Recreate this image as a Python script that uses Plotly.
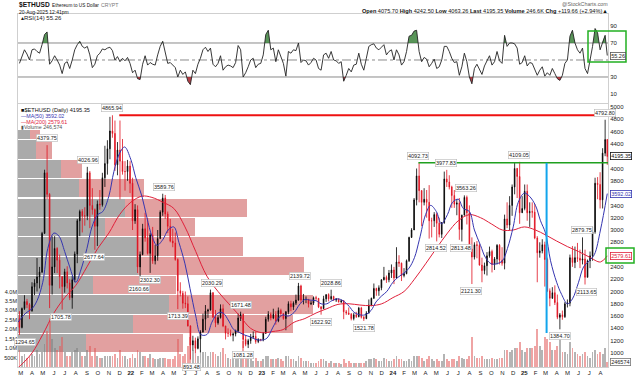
import numpy as np
import pandas as pd
import plotly.graph_objects as go

FONT = "Liberation Sans, Arial, sans-serif"

# ---------------- data (weekly) ----------------
WEEK0 = "2021-02-22"
FIRST_OPEN = 1560.0
CLOSE = [
    1416, 1723, 1836, 1786, 1687, 2078, 2139, 2237, 2315, 2945,
    3930, 3580, 2100, 2400, 2700, 2510, 2240, 2080, 2320, 2140,
    1900, 2190, 2610, 3150, 3300, 3230, 3230, 3930, 3400, 3330,
    3060, 3420, 3410, 3850, 4080, 4320, 4610, 4570, 4060, 4300,
    4120, 3950, 3950, 4040, 3760,
    3150, 3330, 2400, 2600, 3020, 2870, 2620, 2920, 2500, 2580,
    2860, 3290, 3520, 3260, 3060, 2820, 2790, 2520, 2010, 1970,
    1810, 1800, 1440, 1130, 1200, 1075, 1230, 1340, 1550, 1680,
    1700, 1980, 1580, 1490, 1575, 1720, 1440, 1320, 1320, 1290,
    1310, 1360, 1570, 1630, 1220, 1140, 1200, 1260, 1270, 1185,
    1220, 1215,
    1320, 1550, 1630, 1570, 1630, 1520, 1690, 1640, 1560, 1670,
    1800, 1750, 1810, 1860, 2090, 1860, 1870, 1870, 1800, 1810,
    1900, 1890, 1750, 1720, 1880, 1950, 1880, 1920, 1860, 1880,
    1830, 1850, 1670, 1650, 1630, 1560, 1620, 1590, 1730, 1580,
    1560, 1650, 1780, 1890, 2050, 2010, 2060, 2190, 2230, 2190,
    2300, 2350,
    2220, 2480, 2460, 2260, 2290, 2500, 2880, 3000, 3490, 3880,
    3640, 3450, 3500, 3450, 3150, 3150, 3250, 3110, 2930, 3120,
    3830, 3780, 3700, 3560, 3420, 3440, 3010, 3240, 3530, 3280,
    2690, 2560, 2760, 2750, 2430, 2340, 2420, 2580, 2650, 2440,
    2530, 2750, 2510, 2460, 3180, 3080, 3400, 3700, 4000, 3870,
    3280, 3350,
    3630, 3280, 3300, 3290, 2870, 2630, 2660, 2760, 2520, 2010,
    1890, 1980, 1820, 1580, 1620, 1590, 1800, 1810, 2550, 2470,
    2550, 2540, 2510, 2530, 2230, 2500, 2580, 2970, 3760, 3740,
    3490, 4250, 4470, 4195.35,
]
HIGH = [
    1680, 1740, 1940, 1880, 1810, 2150, 2200, 2545, 2400, 2970,
    3980, 4379.75, 3600, 2900, 2900, 2720, 2600, 2250, 2370, 2410,
    2200, 2250, 2650, 3180, 3330, 3340, 3370, 4026.96, 3960, 3680,
    3350, 3480, 3650, 3930, 4370, 4460, 4840, 4865.94, 4780, 4430,
    4780, 4480, 4120, 4140, 4120,
    3850, 3420, 3400, 2650, 3100, 3280, 3200, 2950, 3050, 2760,
    3000, 3320, 3589.76, 3570, 3300, 3180, 3020, 2960, 2540, 2150,
    2010, 2000, 1920, 1450, 1280, 1250, 1270, 1370, 1640, 1780,
    1720, 2030.29, 1990, 1700, 1620, 1790, 1790, 1440, 1400, 1380,
    1330, 1380, 1640, 1671.48, 1640, 1290, 1230, 1310, 1350, 1350,
    1240, 1230,
    1340, 1590, 1680, 1660, 1720, 1680, 1740, 1720, 1650, 1680,
    1840, 1850, 1840, 1950, 2139.72, 2110, 1960, 1920, 1880, 1850,
    1920, 1930, 1890, 1760, 1930, 1950, 1970, 2028.86, 1930, 1890,
    1880, 1870, 1860, 1700, 1740, 1650, 1650, 1670, 1750, 1750,
    1600, 1680, 1870, 1900, 2130, 2060, 2100, 2200, 2400, 2260,
    2350, 2440,
    2400, 2720, 2590, 2470, 2380, 2520, 2890, 3030, 3520, 4000,
    4092.73, 3650, 3680, 3650, 3730, 3200, 3290, 3280, 3200, 3130,
    3950, 3977.83, 3890, 3720, 3650, 3500, 3520, 3250, 3563.26, 3560,
    3400, 2880, 2800, 2820, 2780, 2550, 2470, 2640, 2730, 2680,
    2560, 2770, 2770, 2720, 3250, 3450, 3550, 3740, 4090, 4010,
    4109.05, 3550,
    3740, 3740, 3450, 3450, 3420, 2900, 2800, 2850, 2810, 2550,
    2050, 2070, 2100, 1950, 1650, 1690, 1830, 1870, 2600, 2740,
    2730, 2790, 2680, 2879.75, 2680, 2520, 2650, 3050, 3850, 3860,
    3940, 4330, 4792.80, 4480,
]
LOW = [
    1294.65, 1400, 1700, 1730, 1550, 1670, 1940, 2000, 2050, 2300,
    2940, 3500, 1730, 1950, 2300, 2300, 2050, 1705.78, 1980, 2050,
    1860, 1720, 2150, 2460, 2900, 2960, 3070, 3160, 3030, 3250,
    2677.64, 2740, 3330, 3380, 3700, 3900, 4150, 4500, 3960, 3890,
    3500, 3900, 3640, 3800, 3600,
    3000, 3100, 2300, 2160.66, 2590, 2810, 2600, 2302.30, 2450, 2440,
    2500, 2860, 3230, 3180, 2950, 2800, 2720, 2500, 1713.39, 1920,
    1720, 1730, 1430, 893.48, 1040, 990, 1060, 1010, 1330, 1370,
    1570, 1690, 1570, 1420, 1460, 1560, 1420, 1220, 1260, 1270,
    1190, 1270, 1330, 1520, 1081.28, 1110, 1080, 1150, 1230, 1150,
    1160, 1190,
    1190, 1310, 1510, 1530, 1550, 1460, 1500, 1580, 1540, 1370,
    1630, 1680, 1700, 1780, 1850, 1810, 1790, 1810, 1740, 1780,
    1780, 1850, 1730, 1622.92, 1720, 1830, 1840, 1860, 1850, 1830,
    1820, 1810, 1550, 1620, 1620, 1530, 1530, 1570, 1580, 1560,
    1521.78, 1550, 1640, 1760, 1880, 1930, 1930, 2020, 2180, 2140,
    2150, 2220,
    2120, 2210, 2400, 2170, 2230, 2280, 2480, 2870, 3000, 3400,
    3450, 3060, 3400, 3200, 2860, 2880, 3050, 2814.52, 2880, 2870,
    3100, 3700, 3660, 3360, 3360, 3240, 2840, 2813.48, 3240, 3090,
    2680, 2121.30, 2520, 2540, 2420, 2150, 2280, 2260, 2550, 2310,
    2350, 2440, 2440, 2420, 2360, 3030, 3000, 3230, 3580, 3520,
    3100, 3280,
    3320, 3150, 3050, 3200, 2850, 2150, 2550, 2620, 2080, 1990,
    1760, 1880, 1780, 1550, 1384.70, 1540, 1570, 1740, 1760, 2400,
    2380, 2480, 2380, 2440, 2113.65, 2230, 2380, 2500, 2940, 3500,
    3350, 3350, 4200, 4060,
]
VOLUME_M = [
    0.9, 0.6, 0.7, 0.5, 0.6, 0.7, 0.6, 0.9, 0.7, 0.8,
    1.2, 1.9, 2.6, 1.5, 1.0, 0.9, 1.1, 1.6, 0.8, 0.6,
    0.6, 0.8, 0.9, 1.0, 0.8, 0.6, 0.6, 0.9, 1.1, 0.6,
    1.0, 0.6, 0.5, 0.5, 0.6, 0.6, 0.6, 0.6, 0.7, 0.5,
    0.9, 0.6, 0.6, 0.4, 0.5,
    0.7, 0.5, 0.9, 0.8, 0.6, 0.6, 0.5, 0.7, 0.5, 0.4,
    0.4, 0.5, 0.5, 0.5, 0.4, 0.4, 0.4, 0.6, 1.5, 0.7,
    0.6, 0.7, 1.1, 1.6, 0.9, 0.7, 0.6, 0.9, 0.8, 0.8,
    0.6, 0.8, 0.8, 0.7, 0.6, 0.8, 1.0, 0.7, 0.5, 0.4,
    0.5, 0.4, 0.7, 0.5, 1.4, 0.6, 0.5, 0.4, 0.3, 0.5,
    0.3, 0.3,
    0.4, 0.6, 0.6, 0.4, 0.4, 0.4, 0.5, 0.4, 0.3, 0.6,
    0.6, 0.4, 0.4, 0.3, 0.6, 0.5, 0.3, 0.3, 0.3, 0.2,
    0.2, 0.2, 0.3, 0.4, 0.4, 0.3, 0.2, 0.3, 0.2, 0.2,
    0.2, 0.15, 0.4, 0.2, 0.3, 0.2, 0.2, 0.2, 0.2, 0.2,
    0.2, 0.3, 0.4, 0.4, 0.5, 0.4, 0.3, 0.3, 0.5, 0.4,
    0.3, 0.3,
    0.4, 0.6, 0.4, 0.4, 0.3, 0.3, 0.4, 0.3, 0.6, 0.6,
    0.6, 0.5, 0.3, 0.4, 0.6, 0.4, 0.3, 0.4, 0.3, 0.3,
    0.7, 0.4, 0.3, 0.4, 0.4, 0.3, 0.6, 0.5, 0.4, 0.4,
    0.6, 1.6, 0.6, 0.5, 0.5, 0.6, 0.4, 0.4, 0.4, 0.5,
    0.4, 0.4, 0.5, 0.5, 0.9, 0.9, 0.8, 0.9, 1.0, 1.0,
    1.3, 0.9,
    0.8, 1.0, 1.0, 1.0, 1.1, 2.0, 1.1, 0.9, 1.6, 1.5,
    1.3, 0.9, 0.9, 1.1, 1.6, 0.8, 0.8, 0.7, 1.3, 1.0,
    0.8, 0.7, 0.6, 0.7, 0.8, 0.6, 0.5, 0.8, 0.9, 0.7,
    0.8, 0.7, 1.0, 0.25,
]
RSI14 = [
    46, 55, 62, 57, 50, 62, 63, 60, 58, 68,
    80, 83, 45, 49, 55, 50, 44, 34, 46, 48,
    40, 50, 62, 68, 72, 66, 64, 66, 56, 41,
    45, 55, 58, 63, 62, 64, 65, 61, 50, 54,
    48, 52, 49, 53, 46,
    35, 38, 28, 27, 45, 55, 44, 47, 45, 44,
    56, 66, 72, 58, 46, 47, 44, 41, 30, 38,
    33, 36, 25, 21, 38, 34, 45, 52, 62, 65,
    60, 64, 45, 42, 46, 55, 38, 42, 44, 43,
    41, 47, 67, 62, 30, 35, 42, 50, 52, 41,
    45, 46,
    56, 80, 85, 62, 64, 48, 62, 55, 46, 31,
    60, 58, 62, 61, 70, 47, 50, 49, 44, 47,
    52, 50, 40, 38, 56, 58, 52, 60, 50, 49,
    46, 48, 25, 32, 40, 36, 44, 45, 58, 45,
    38, 52, 66, 68, 69, 64, 62, 65, 68, 56,
    60, 62,
    50, 62, 56, 44, 48, 60, 78, 79, 84, 85,
    60, 48, 53, 51, 42, 46, 51, 40, 42, 50,
    66, 66, 60, 52, 47, 48, 32, 42, 58, 48,
    30, 22, 40, 45, 38, 33, 43, 50, 55, 44,
    48, 60, 49, 46, 79, 66, 70, 70, 69, 64,
    45, 47,
    55, 43, 47, 46, 38, 32, 38, 42, 31, 35,
    32, 40, 34, 28, 26, 32, 46, 50, 78, 85,
    70, 62, 58, 64, 40, 34, 50, 66, 87, 82,
    62, 72, 79, 55.26,
]
# MA(50): start, 1st & 15th of each month Mar-2021..Aug-2025, last day
MA50_VALUES = [
    1500,
    1560, 1650, 1720, 1850, 2150, 2700, 2950, 2900, 2650, 2400,
    2150, 2350, 2700, 3050, 3250, 3300, 3550, 3950, 4250, 4350,
    4150, 3850, 3550, 3200, 2900, 2750, 2850, 3000, 3050, 2800, 2450, 2050,
    1600, 1300, 1300, 1500, 1650, 1650, 1520, 1380, 1330, 1290, 1260, 1220,
    1210, 1240, 1420, 1560, 1620, 1600, 1660, 1780, 1870, 1860, 1850, 1800,
    1800, 1850, 1880, 1850, 1760, 1660, 1620, 1620, 1690, 1830, 1930, 2000,
    2150, 2230, 2300, 2380, 2550, 2850, 3250, 3400, 3300, 3100, 3250, 3450,
    3500, 3350, 3300, 3000, 2750, 2550, 2450, 2450, 2500, 2700, 3050, 3450,
    3600, 3550, 3400, 3150, 2950, 2500, 2150, 1950, 1800, 1880, 2150, 2400,
    2500, 2600, 3000,
    3592.02,
]
# MA(200): start, 1st of each month Mar-2021..Aug-2025, last day
MA200_VALUES = [
    760,
    800, 1000, 1300, 1650, 1900, 2100, 2400, 2700, 2950, 3250,
    3450, 3550, 3530, 3450, 3350, 3050, 2650, 2250, 2000, 1800, 1600, 1400,
    1330, 1350, 1380, 1500, 1560, 1650, 1720, 1790, 1800, 1780, 1770, 1800,
    1900, 2000, 2200, 2450, 2700, 2950, 3150, 3250, 3200, 3100, 3000, 3000,
    3050, 3000, 2920, 2820, 2730, 2650, 2560, 2480,
    2579.61,
]
# volume-by-price bands (price edges) and up/down volume (relative units)
VBP_EDGES = [1000, 1315, 1630, 1945, 2260, 2575, 2890, 3205, 3520, 3835, 4150, 4465, 4630]
VBP_UP = [11.5, 19.5, 25.6, 12.7, 20.3, 20.3, 14.7, 18.1, 10.3, 7.3, 3.1, 2.0]
VBP_DOWN = [16.5, 27.1, 24.4, 14.1, 28.2, 17.8, 15.3, 20.7, 11.1, 3.5, 2.7, 1.7]

PIVOTS = [
    ("2021-02-28", 1294.65, "low"), ("2021-05-12", 4379.75, "high"),
    ("2021-06-22", 1705.78, "low"), ("2021-09-03", 4026.96, "high"),
    ("2021-09-21", 2677.64, "low"), ("2021-11-10", 4865.94, "high"),
    ("2022-01-24", 2160.66, "low"), ("2022-02-24", 2302.30, "low"),
    ("2022-04-03", 3589.76, "high"), ("2022-05-12", 1713.39, "low"),
    ("2022-06-18", 893.48, "low"), ("2022-08-14", 2030.29, "high"),
    ("2022-11-05", 1671.48, "high"), ("2022-11-09", 1081.28, "low"),
    ("2023-04-16", 2139.72, "high"), ("2023-06-15", 1622.92, "low"),
    ("2023-07-14", 2028.86, "high"), ("2023-10-12", 1521.78, "low"),
    ("2024-03-12", 4092.73, "high"), ("2024-05-01", 2814.52, "low"),
    ("2024-05-27", 3977.83, "high"), ("2024-07-08", 2813.48, "low"),
    ("2024-07-22", 3563.26, "high"), ("2024-08-05", 2121.30, "low"),
    ("2024-12-16", 4109.05, "high"), ("2025-04-09", 1384.70, "low"),
    ("2025-06-11", 2879.75, "high"), ("2025-06-22", 2113.65, "low"),
    ("2025-08-13", 4792.80, "high"),
]
MONTH_INITIALS = ["J", "F", "M", "A", "M", "J", "J", "A", "S", "O", "N", "D"]
# tick labels hidden behind the last-value boxes are left out
PRICE_TICKS = [p for p in range(1000, 5001, 200) if p not in (2600, 3600, 4200)]
RSI_TICKS = [10, 30, 70, 90]
VOL_TICKS = [0.5, 1.0, 1.5, 2.0, 2.5, 3.0, 3.5, 4.0]
VOL_TICK_TEXT = ["500K", "1.0M", "1.5M", "2.0M", "2.5M", "3.0M", "3.5M", "4.0M"]

# ---------------- layout constants ----------------
W, H = 640, 378
ML, MR, MT, MB = 18, 32, 14, 11
PH = H - MT - MB
X0, X1 = pd.Timestamp("2021-02-21"), pd.Timestamp("2025-08-22")
RSI_DOM = [(H - MB - 103) / PH, 1.0]
PRICE_DOM = [0.0, (H - MB - 104) / PH]
PRICE_RANGE = [772, 5049]
RSI_RANGE = [-0.6, 104.1]
VOL_RANGE = [0, 13.95e6]


def px_x(p):
    return (p - ML) / (W - ML - MR)


def px_y(p):
    return (H - MB - p) / PH


weeks = pd.date_range(WEEK0, periods=len(CLOSE), freq="7D")
last_c = X1 - pd.Timedelta(days=2)
centers = [min(w + pd.Timedelta(days=3), last_c) for w in weeks]
opens = [FIRST_OPEN] + CLOSE[:-1]

ma50_dates = ([pd.Timestamp("2021-02-21")]
              + list(pd.date_range("2021-03-01", "2025-08-01", freq="SMS"))
              + [pd.Timestamp("2025-08-20")])
ma200_dates = ([pd.Timestamp("2021-02-21")]
               + list(pd.date_range("2021-03-01", "2025-08-01", freq="MS"))
               + [pd.Timestamp("2025-08-20")])

fig = go.Figure()

# volume by price (base subplot x2/y3, drawn first)
centers_vbp = [(VBP_EDGES[k] + VBP_EDGES[k + 1]) / 2 for k in range(len(VBP_UP))]
widths_vbp = [(VBP_EDGES[k + 1] - VBP_EDGES[k]) - 18 for k in range(len(VBP_UP))]
fig.add_trace(go.Bar(y=centers_vbp, x=VBP_DOWN, base=VBP_UP, width=widths_vbp,
                     orientation="h", marker=dict(color="rgb(226,160,160)", line=dict(width=0)),
                     xaxis="x2", yaxis="y3", hoverinfo="skip"))
fig.add_trace(go.Bar(y=centers_vbp, x=VBP_UP, width=widths_vbp, orientation="h",
                     marker=dict(color="rgb(170,170,170)", line=dict(width=0)),
                     xaxis="x2", yaxis="y3", hoverinfo="skip"))

# volume bars (x3/y2)
vol_colors = ["rgba(130,130,130,0.6)" if c >= o else "rgba(225,90,90,0.55)"
              for c, o in zip(CLOSE, opens)]
fig.add_trace(go.Bar(x=centers, y=[v * 1e6 for v in VOLUME_M], width=5.0 * 86400000,
                     marker=dict(color=vol_colors, line=dict(width=0)),
                     xaxis="x3", yaxis="y2", hoverinfo="skip"))

# candles (x3/y3)
fig.add_trace(go.Candlestick(
    x=centers, open=opens, high=HIGH, low=LOW, close=CLOSE,
    increasing=dict(line=dict(color="black", width=0.8), fillcolor="black"),
    decreasing=dict(line=dict(color="#e0101e", width=0.8), fillcolor="#e0101e"),
    whiskerwidth=0, xaxis="x3", yaxis="y3", hoverinfo="skip"))

# moving averages
fig.add_trace(go.Scatter(x=ma200_dates, y=MA200_VALUES, mode="lines",
                         line=dict(color="#e0203a", width=1, shape="spline", smoothing=1.0),
                         xaxis="x3", yaxis="y3", hoverinfo="skip"))
fig.add_trace(go.Scatter(x=ma50_dates, y=MA50_VALUES, mode="lines",
                         line=dict(color="#3535b0", width=1, shape="spline", smoothing=1.0),
                         xaxis="x3", yaxis="y3", hoverinfo="skip"))


# RSI fills
def threshold_polys(ts, vs, level, above):
    xs, ys = [], []
    cur = None
    for i in range(len(vs)):
        inside = vs[i] > level if above else vs[i] < level
        if i == 0:
            if inside:
                cur = [(ts[0], level)]
        else:
            prev_inside = vs[i - 1] > level if above else vs[i - 1] < level
            if inside != prev_inside:
                f = (level - vs[i - 1]) / (vs[i] - vs[i - 1])
                tc = ts[i - 1] + f * (ts[i] - ts[i - 1])
                if inside:
                    cur = [(tc, level)]
                else:
                    cur.append((tc, level))
                    for a, b in cur:
                        xs.append(pd.Timestamp(int(a), unit="ms"))
                        ys.append(b)
                    xs.append(None)
                    ys.append(None)
                    cur = None
        if inside:
            cur.append((ts[i], vs[i]))
    if cur:
        cur.append((ts[-1], level))
        for a, b in cur:
            xs.append(pd.Timestamp(int(a), unit="ms"))
            ys.append(b)
    return xs, ys


tms = [c.value / 1e6 for c in centers]
gx, gy = threshold_polys(tms, RSI14, 70, True)
rx, ry = threshold_polys(tms, RSI14, 30, False)
fig.add_trace(go.Scatter(x=gx, y=gy, mode="none", fill="toself",
                         fillcolor="rgba(60,130,60,0.85)", xaxis="x", yaxis="y", hoverinfo="skip"))
fig.add_trace(go.Scatter(x=rx, y=ry, mode="none", fill="toself",
                         fillcolor="rgba(170,30,40,0.85)", xaxis="x", yaxis="y", hoverinfo="skip"))
fig.add_trace(go.Scatter(x=centers, y=RSI14, mode="lines",
                         line=dict(color="#222", width=0.9), xaxis="x", yaxis="y", hoverinfo="skip"))

# ---------------- shapes ----------------
shapes = []
for lvl, dash in [(70, "solid"), (30, "solid"), (50, "dashdot")]:
    shapes.append(dict(type="line", xref="x domain", yref="y", x0=0, x1=1, y0=lvl, y1=lvl,
                       line=dict(color="#8a8a8a", width=1, dash=dash), layer="below"))
shapes.append(dict(type="line", xref="x3", yref="y3", x0="2021-11-30", x1=X1,
                   y0=4865.94, y1=4865.94, line=dict(color="#ee1111", width=2)))
shapes.append(dict(type="line", xref="x3", yref="y3", x0="2024-03-12", x1=X1,
                   y0=4092.73, y1=4092.73, line=dict(color="#1fa01f", width=1.5)))
shapes.append(dict(type="line", xref="x3", yref="y3", x0="2025-03-04", x1="2025-03-04",
                   y0=1325, y1=4092.73, line=dict(color="#12a5ec", width=2)))
shapes.append(dict(type="rect", xref="paper", yref="y", x0=px_x(588), x1=px_x(626),
                   y0=47.6, y1=84, line=dict(color="#22b022", width=1.5)))
shapes.append(dict(type="rect", xref="paper", yref="y3", x0=px_x(606), x1=px_x(634),
                   y0=2463, y1=2707, line=dict(color="#22b022", width=1.5)))

# ---------------- annotations ----------------
ann = []
for k, (d, p, kind) in enumerate(PIVOTS):
    ann.append(dict(x=d, y=p, xref="x3", yref="y3", text=f"{p:.2f}", showarrow=False,
                    yshift=7 if kind == "high" else -7, xshift=4 if k == 0 else 0,
                    font=dict(family=FONT, size=5.5, color="#222"),
                    bgcolor="white", bordercolor="#b8b8b8", borderwidth=0.6, borderpad=0.4))


def side_label(y, yref, text, border, color):
    return dict(x=1, xref="paper", y=y, yref=yref, xanchor="left", xshift=2, text=text,
                showarrow=False, font=dict(family=FONT, size=5.5, color=color),
                bgcolor="white", bordercolor=border, borderwidth=0.8, borderpad=0.4)


ann.append(side_label(4195.35, "y3", "4195.35", "#111", "#111"))
ann.append(side_label(3592.02, "y3", "3592.02", "#3535b0", "#3535b0"))
ann.append(side_label(2579.61, "y3", "2579.61", "#e0203a", "#e0203a"))
ann.append(side_label(55.26, "y", "55.26", "#555", "#222"))
ann.append(side_label(246574, "y2", "246574", "#777", "#222"))


def txt(xp, yp, text, size, color="#111", anchor="left"):
    return dict(x=px_x(xp), y=px_y(yp), xref="paper", yref="paper", text=text,
                showarrow=False, xanchor=anchor, yanchor="middle",
                font=dict(family=FONT, size=size, color=color))


ann += [
    txt(17, 5, "<b>$ETHUSD</b>", 6.6),
    txt(50, 5.5, "Ethereum to US Dollar", 4.7),
    txt(99, 5.5, "CRYPT", 5.2, "#777"),
    txt(17, 11.5, "20-Aug-2025 12:41pm", 5.0),
    txt(610, 4, "@StockCharts.com", 5.3, "#666", "right"),
    txt(610, 11, "<b>Open</b> 4075.70 <b>High</b> 4242.50 <b>Low</b> 4063.26 <b>Last</b> 4195.35 "
                 "<b>Volume</b> 246.6K <b>Chg</b> +119.66 (+2.94%)▲", 5.6, "#111", "right"),
    txt(19, 18.5, "▴RSI(14) 55.26", 6, "#222"),
    txt(19, 110, "■$ETHUSD (Daily) 4195.35", 5.6, "#111"),
    txt(19, 116, "—MA(50) 3592.02", 5.3, "#3535b0"),
    txt(19, 121.5, "—MA(200) 2579.61", 5.3, "#e0203a"),
    txt(19, 127, "▮Volume 246,574", 5.3, "#555"),
]

# ---------------- axes ----------------
tickvals = pd.date_range("2021-03-01", "2025-08-01", freq="MS")
ticktext = [f"<b>{d.year % 100}</b>" if d.month == 1 else MONTH_INITIALS[d.month - 1]
            for d in tickvals]
tickfont = dict(family=FONT, size=6, color="#222")

fig.update_layout(
    template="none",
    width=W, height=H, margin=dict(l=ML, r=MR, t=MT, b=MB, autoexpand=False),
    paper_bgcolor="white", plot_bgcolor="white", showlegend=False,
    barmode="overlay", bargap=0, boxgap=0.55,
    font=dict(family=FONT, size=6, color="#222"),
    shapes=shapes, annotations=ann,
    xaxis=dict(domain=[0, 1], anchor="y", type="date", range=[X0, X1], automargin=False,
               showticklabels=False, showgrid=False, zeroline=False, ticks="",
               showline=True, mirror=True, linecolor="#cfcfcf", linewidth=1),
    yaxis=dict(domain=RSI_DOM, anchor="x", range=RSI_RANGE, side="right", automargin=False,
               tickvals=RSI_TICKS, tickfont=tickfont, showgrid=False, zeroline=False,
               ticks="", showline=True, mirror=True, linecolor="#cfcfcf", linewidth=1),
    xaxis2=dict(domain=[0, 1], anchor="y3", range=[0, 100], visible=False, fixedrange=True,
                automargin=False),
    xaxis3=dict(overlaying="x2", anchor="y3", type="date", range=[X0, X1], automargin=False,
                tickvals=tickvals, ticktext=ticktext, tickfont=tickfont, tickangle=0,
                showgrid=False, zeroline=False, ticks="", rangeslider=dict(visible=False),
                showline=True, mirror=True, linecolor="#cfcfcf", linewidth=1),
    yaxis3=dict(domain=PRICE_DOM, anchor="x2", range=PRICE_RANGE, side="right", automargin=False,
                tickvals=PRICE_TICKS, tickfont=tickfont, showgrid=False, zeroline=False,
                ticks="", showline=True, mirror=True, linecolor="#cfcfcf", linewidth=1),
    yaxis2=dict(overlaying="y3", anchor="x2", side="left", range=VOL_RANGE, automargin=False,
                tickvals=[v * 1e6 for v in VOL_TICKS], ticktext=VOL_TICK_TEXT,
                tickfont=dict(family=FONT, size=5.5, color="#222"),
                showgrid=False, zeroline=False, ticks=""),
)

# the page body has a default 8px margin; remove it so the 640x378 figure fills the window
fig.write_html("out.html",
               config={"displayModeBar": False, "staticPlot": True},
               post_script="document.body.style.margin='0';document.body.style.overflow='hidden';")
